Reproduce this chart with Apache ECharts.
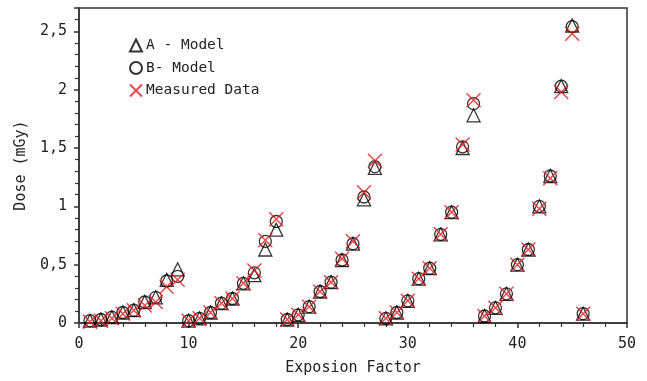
<!DOCTYPE html>
<html>
<head>
	<meta charset="UTF-8">
	<title>Dose vs Exposion Factor</title>
	<script src="https://cdn.jsdelivr.net/npm/echarts@6/dist/echarts.min.js"></script>
	<style>
		html, body { margin: 0; padding: 0; background: #fff; }
		#main { width: 647px; height: 381px; }
	</style>
</head>
<body>
	<div id="main"></div>
	<script>

	// exposure factor (x) and dose values (mGy)
	var factors = [
		1, 2, 3, 4, 5, 6, 7, 8, 9,
		10, 11, 12, 13, 14, 15, 16, 17, 18,
		19, 20, 21, 22, 23, 24, 25, 26, 27,
		28, 29, 30, 31, 32, 33, 34, 35, 36,
		37, 38, 39, 40, 41, 42, 43, 44, 45,
		46
	];
	var modelA = [
		0.02, 0.03, 0.05, 0.09, 0.11, 0.18, 0.22, 0.37, 0.46,
		0.02, 0.04, 0.09, 0.17, 0.21, 0.34, 0.41, 0.63, 0.80,
		0.03, 0.07, 0.14, 0.27, 0.35, 0.54, 0.68, 1.06, 1.33,
		0.04, 0.09, 0.19, 0.38, 0.47, 0.76, 0.95, 1.50, 1.78,
		0.06, 0.13, 0.25, 0.50, 0.63, 1.00, 1.26, 2.03, 2.55,
		0.08
	];
	var modelB = [
		0.02, 0.03, 0.05, 0.09, 0.11, 0.18, 0.22, 0.36, 0.40,
		0.02, 0.04, 0.09, 0.17, 0.21, 0.34, 0.43, 0.70, 0.87,
		0.03, 0.07, 0.14, 0.27, 0.35, 0.54, 0.68, 1.08, 1.34,
		0.04, 0.09, 0.19, 0.38, 0.47, 0.76, 0.95, 1.51, 1.88,
		0.06, 0.13, 0.25, 0.50, 0.63, 1.00, 1.26, 2.03, 2.54,
		0.08
	];
	var measured = [
		0.01, 0.02, 0.04, 0.08, 0.11, 0.15, 0.18, 0.31, 0.37,
		0.02, 0.04, 0.09, 0.17, 0.21, 0.34, 0.45, 0.71, 0.89,
		0.03, 0.07, 0.14, 0.27, 0.35, 0.55, 0.70, 1.12, 1.39,
		0.04, 0.09, 0.19, 0.38, 0.47, 0.76, 0.95, 1.53, 1.91,
		0.06, 0.13, 0.25, 0.50, 0.63, 0.98, 1.24, 1.98, 2.48,
		0.08
	];
	var seriesNames = ['A - Model', 'B- Model', 'Measured Data'];

	function pairs(ys) {
		var out = [];
		for (var i = 0; i < factors.length; i++) {
			out.push([factors[i], ys[i]]);
		}
		return out;
	}

	var monoFont = '"DejaVu Sans Mono", "Liberation Mono", monospace';
	var textColor = '#222';
	var crossPath = 'path://M0,0L10,10M10,0L0,10';

	var option = {
		animation: false,
		backgroundColor: '#fff',
		grid: {
			left: 79,
			right: 20,
			top: 8,
			bottom: 56,
			show: true,
			borderColor: '#333',
			borderWidth: 1.5
		},
		legend: {
			orient: 'vertical',
			left: 124,
			top: 33,
			itemWidth: 12,
			itemHeight: 12,
			itemGap: 7.5,
			data: seriesNames,
			textStyle: {
				fontFamily: monoFont,
				fontSize: 14.5,
				color: textColor,
				padding: [0, 0, 0, -1]
			}
		},
		xAxis: {
			type: 'value',
			min: 0,
			max: 50,
			interval: 10,
			name: 'Exposion Factor',
			nameLocation: 'middle',
			nameGap: 38,
			nameTextStyle: { fontFamily: monoFont, fontSize: 15, color: textColor },
			axisLine: { lineStyle: { color: '#333', width: 1.5 } },
			axisTick: { show: true, length: 5, lineStyle: { color: '#333', width: 1.5 } },
			minorTick: { show: true, splitNumber: 5, length: 4, lineStyle: { color: '#333', width: 1.2 } },
			splitLine: { show: false },
			axisLabel: { fontFamily: monoFont, fontSize: 15, color: textColor, margin: 14 }
		},
		yAxis: {
			type: 'value',
			min: 0,
			max: 2.7,
			interval: 0.5,
			name: 'Dose (mGy)',
			nameLocation: 'middle',
			nameGap: 49,
			nameTextStyle: { fontFamily: monoFont, fontSize: 15, color: textColor },
			axisLine: { show: true, lineStyle: { color: '#333', width: 1.5 } },
			axisTick: { show: true, length: 5, lineStyle: { color: '#333', width: 1.5 } },
			minorTick: { show: true, splitNumber: 5, length: 4, lineStyle: { color: '#333', width: 1.2 } },
			splitLine: { show: false },
			axisLabel: {
				fontFamily: monoFont,
				fontSize: 15,
				color: textColor,
				margin: 12,
				formatter: function(v) {
					if (v > 2.6) return '';
					return String(v).replace('.', ',');
				}
			}
		},
		series: [
			{
				name: seriesNames[0],
				type: 'scatter',
				data: pairs(modelA),
				symbol: 'triangle',
				symbolSize: 13,
				itemStyle: { color: 'rgba(0,0,0,0)', borderColor: '#000', borderWidth: 1.3 },
				z: 2
			},
			{
				name: seriesNames[1],
				type: 'scatter',
				data: pairs(modelB),
				symbol: 'circle',
				symbolSize: 12,
				itemStyle: { color: 'rgba(0,0,0,0)', borderColor: '#000', borderWidth: 1.3 },
				z: 3
			},
			{
				name: seriesNames[2],
				type: 'scatter',
				data: pairs(measured),
				symbol: crossPath,
				symbolSize: 14,
				itemStyle: { color: 'rgba(0,0,0,0)', borderColor: '#e41a1c', borderWidth: 1.5 },
				z: 4
			}
		]
	};

	var myChart = echarts.init(document.getElementById('main'), null, { renderer: 'canvas' });
	myChart.setOption(option);

	</script>
</body>
</html>
